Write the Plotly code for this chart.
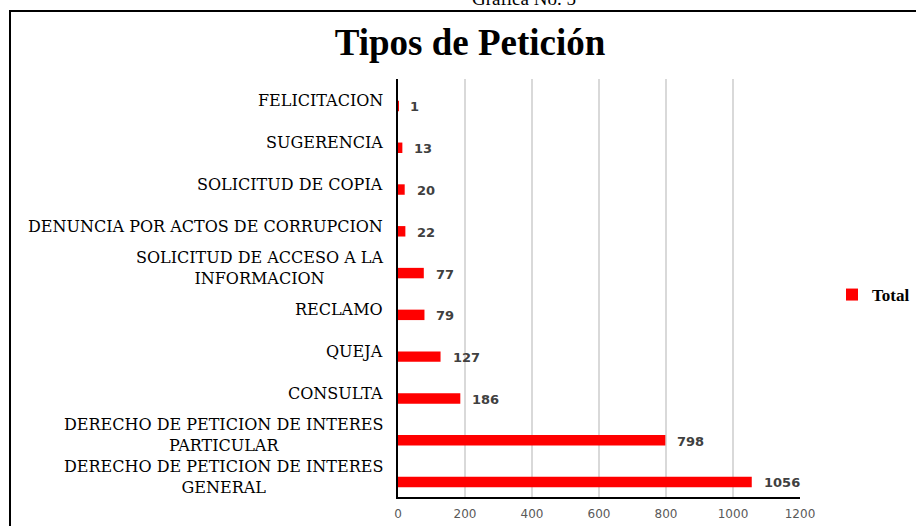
import plotly.graph_objects as go

# categories listed top to bottom, as they appear on the chart
categories = [
    "FELICITACION",
    "SUGERENCIA",
    "SOLICITUD DE COPIA",
    "DENUNCIA POR ACTOS DE CORRUPCION",
    "SOLICITUD DE ACCESO A LA<br>INFORMACION",
    "RECLAMO",
    "QUEJA",
    "CONSULTA",
    "DERECHO DE PETICION DE INTERES<br>PARTICULAR",
    "DERECHO DE PETICION DE INTERES<br>GENERAL",
]
totals = [1, 13, 20, 22, 77, 79, 127, 186, 798, 1056]
x_ticks = [0, 200, 400, 600, 800, 1000, 1200]

W, H = 916, 526
L, R, T, B = 398, 116, 79, 29
pw, ph = W - L - R, H - T - B

serif = "Liberation Serif, Times New Roman, serif"
wide_serif = "DejaVu Serif, serif"
sans = "DejaVu Sans, Verdana, sans-serif"

fig = go.Figure()
fig.add_trace(go.Bar(
    name="Total",
    y=categories,
    x=totals,
    orientation="h",
    width=0.25,
    marker=dict(color="#ff0000", line_width=0),
    showlegend=True,
))

# category labels: block right-aligned to the axis, lines centred (Excel style)
for cat in categories:
    fig.add_annotation(
        x=0, y=cat, xref="paper", yref="y",
        text=cat, showarrow=False,
        xanchor="right", align="center", xshift=-13, yshift=5,
        font=dict(family=wide_serif, size=16, color="#000000"),
    )

# value labels just right of each bar
for cat, val in zip(categories, totals):
    fig.add_annotation(
        x=val, y=cat, xref="x", yref="y",
        text=str(val), showarrow=False,
        xanchor="left", xshift=10, yshift=-1,
        font=dict(family=sans, size=13, color="#404040", weight="bold"),
    )

# caption cut off at the top of the page
fig.add_annotation(
    x=(470 - L) / pw, y=1 + (T + 1) / ph, xref="paper", yref="paper",
    text="Gráfica No. 5", showarrow=False, yanchor="middle",
    font=dict(family=serif, size=19, color="#000000"),
)

# outer frame around the chart
fig.add_shape(
    type="rect", xref="paper", yref="paper",
    x0=(10 - L) / pw, x1=(W + 10 - L) / pw,
    y0=-(H + 10 - T - ph) / ph, y1=1 + (T - 11) / ph,
    line=dict(color="#000000", width=2), fillcolor="rgba(0,0,0,0)", layer="below",
)

fig.update_layout(
    width=W, height=H,
    margin=dict(l=L, r=R, t=T, b=B, autoexpand=False),
    paper_bgcolor="#ffffff",
    plot_bgcolor="#ffffff",
    title=dict(
        text="<b>Tipos de Petición</b>",
        xref="container", x=470 / W, xanchor="center",
        yref="container", y=1 - 42 / H, yanchor="middle",
        font=dict(family=serif, size=37, color="#000000"),
    ),
    xaxis=dict(
        range=[0, 1200], tickvals=x_ticks, showgrid=True,
        gridcolor="#d9d9d9", gridwidth=2,
        showline=True, linecolor="#000000", linewidth=2,
        zeroline=False, ticks="", ticklabelstandoff=5,
        tickfont=dict(family=sans, size=12, color="#595959"),
        automargin=False,
    ),
    yaxis=dict(
        type="category",
        range=[9.36, -0.646],
        showgrid=False, showline=True, linecolor="#000000", linewidth=2,
        ticks="", showticklabels=False,
        automargin=False,
    ),
    legend=dict(
        x=(832 - L) / pw, xanchor="left",
        y=(H - B - 295) / ph, yanchor="middle",
        font=dict(family=serif, size=17, color="#000000", weight="bold"),
        itemwidth=30, bgcolor="rgba(0,0,0,0)",
    ),
    bargap=0.75,
)

fig.write_html(
    "out.html",
    config={"displayModeBar": False},
    post_script="document.body.style.margin = '0';",
)
